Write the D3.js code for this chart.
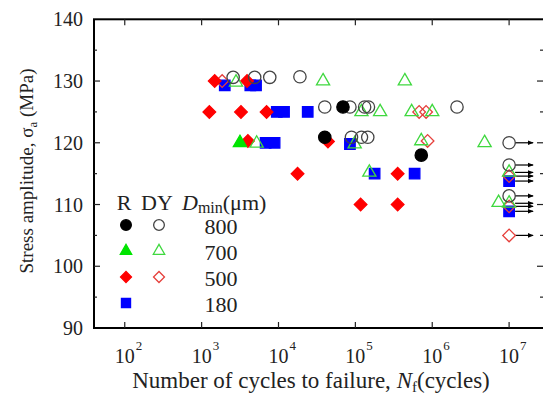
<!DOCTYPE html>
<meta charset="utf-8">
<script src="https://d3js.org/d3.v7.min.js"></script>
<style>
  body { margin: 0; background: #fff; }
  text { font-family: "Liberation Serif", "Times New Roman", serif; fill: #222; }
</style>
<body>
<svg id="chart" width="543" height="394"></svg>
<script>

// cycles to failure (N) and stress amplitude (MPa), one pair of arrays per series
var r800N = [69000, 40000, 720000];
var r800S = [125.8, 120.9, 118.0];

var dy800N = [2570, 4900, 7700, 19000, 40000, 85000, 132000, 148000, 2100000, 89000, 120000, 145000];
var dy800S = [130.6, 130.6, 130.6, 130.7, 125.8, 125.8, 125.8, 125.8, 125.8, 120.9, 120.9, 120.9];

var r700N = [3150];
var r700S = [120];

var dy700N = [2800, 38000, 440000, 120000, 210000, 540000, 1000000, 5200, 98000, 720000, 4800000, 152000, 7300000];
var dy700S = [129.8, 130, 130, 125, 125, 125, 125, 119.9, 119.8, 120.3, 120, 115.2, 110.3];

var r500N = [1480, 3900, 1260, 3250, 7000, 4000, 44000, 17700, 355000, 117000, 355000];
var r500S = [130, 130, 125, 125, 125, 120.3, 120.2, 115, 115, 110, 110];

var dy500N = [1850, 676000, 832000, 870000];
var dy500S = [130, 125, 125, 120.3];

var r180N = [2000, 4300, 5100, 9500, 11800, 24000, 6800, 8900, 85000, 178000, 590000];
var r180S = [129.3, 129.3, 129.3, 125, 125, 125, 120, 120, 119.8, 115, 115];

// run-outs (unbroken at 10^7 cycles)
var runoutN = 1e7;
var dy800Run = [120, 116.4, 111.4];
var dy700Run = [115.2, 110.2];
var dy500Run = [114.6, 109.7, 105];
var r180Run = [113.8, 108.9];

var decades = [1e2, 1e3, 1e4, 1e5, 1e6, 1e7];
var decadeExp = ["2", "3", "4", "5", "6", "7"];
var yTicks = [90, 100, 110, 120, 130, 140];

var svg = d3.select("#chart");

var x = d3.scaleLog().domain([39.8, 3.02e7]).range([94, 546]);
var y = d3.scaleLinear().domain([90, 140]).range([328, 19.3]);

var x0 = x.range()[0], x1 = x.range()[1];
var y0 = y.range()[0], y1 = y.range()[1];

// arrow head for run-outs
svg.append("defs").append("marker")
    .attr("id", "head")
    .attr("viewBox", "0 0 10 10")
    .attr("refX", 9).attr("refY", 5)
    .attr("markerWidth", 5).attr("markerHeight", 5)
    .attr("orient", "auto")
  .append("path")
    .attr("d", "M0,1L10,5L0,9Z")
    .attr("fill", "#000");

// frame
svg.append("rect")
    .attr("x", x0).attr("y", y1)
    .attr("width", x1 - x0).attr("height", y0 - y1)
    .attr("fill", "none").attr("stroke", "#000").attr("stroke-width", 2);

// y ticks every 5 MPa, inward on both sides
d3.range(95, 140, 5).forEach(function(v) {
  var len = v % 10 == 0 ? 6 : 3;
  svg.append("line").attr("x1", x0).attr("x2", x0 + len)
    .attr("y1", y(v)).attr("y2", y(v)).attr("stroke", "#222").attr("stroke-width", 1.2);
  svg.append("line").attr("x1", x1 - len - 3).attr("x2", x1)
    .attr("y1", y(v)).attr("y2", y(v)).attr("stroke", "#222").attr("stroke-width", 1.2);
});

// x ticks at decades, inward top and bottom
decades.forEach(function(t) {
  svg.append("line").attr("x1", x(t)).attr("x2", x(t))
    .attr("y1", y0).attr("y2", y0 - 6).attr("stroke", "#222").attr("stroke-width", 1.2);
  svg.append("line").attr("x1", x(t)).attr("x2", x(t))
    .attr("y1", y1).attr("y2", y1 + 6).attr("stroke", "#222").attr("stroke-width", 1.2);
});

// y tick labels
svg.selectAll(".ylab").data(yTicks).enter().append("text")
    .attr("x", 83).attr("y", function(d) { return y(d); })
    .attr("dy", "0.35em")
    .attr("text-anchor", "end")
    .style("font-size", "20px")
    .text(function(d) { return d; });

// x tick labels 10^n
decades.forEach(function(t, i) {
  svg.append("text").attr("x", x(t)).attr("y", 363)
    .attr("text-anchor", "middle").style("font-size", "20px").text("10");
  svg.append("text").attr("x", x(t) + 11).attr("y", 350)
    .style("font-size", "13px").text(decadeExp[i]);
});

// axis titles
var xt = svg.append("text").attr("x", 311).attr("y", 388)
    .attr("text-anchor", "middle").style("font-size", "23px");
xt.append("tspan").text("Number of cycles to failure, ");
xt.append("tspan").style("font-style", "italic").text("N");
xt.append("tspan").attr("dy", 4).style("font-size", "15px").text("f");
xt.append("tspan").attr("dy", -4).text("(cycles)");

var yt = svg.append("text")
    .attr("transform", "translate(33,171) rotate(-90)")
    .attr("text-anchor", "middle").style("font-size", "19px");
yt.append("tspan").text("Stress amplitude, σ");
yt.append("tspan").attr("dy", 4).style("font-size", "13px").text("a");
yt.append("tspan").attr("dy", -4).text(" (MPa)");

// marker styles
var styles = {
  r800:  { type: d3.symbolCircle, size: 120, fill: "#000", stroke: "#000", rot: 0 },
  dy800: { type: d3.symbolCircle, size: 120, fill: "none", stroke: "#444", rot: 0 },
  r700:  { type: d3.symbolTriangle, size: 75, fill: "#00e400", stroke: "#00e400", rot: 0 },
  dy700: { type: d3.symbolTriangle, size: 75, fill: "none", stroke: "#3fd83f", rot: 0 },
  r500:  { type: d3.symbolSquare, size: 80, fill: "#ff0000", stroke: "#ff0000", rot: 45 },
  dy500: { type: d3.symbolSquare, size: 80, fill: "none", stroke: "#e6403c", rot: 45 },
  r180:  { type: d3.symbolSquare, size: 110, fill: "#0000ff", stroke: "#0000ff", rot: 0 }
};

function pairs(N, S) {
  return N.map(function(n, i) { return [n, S[i]]; });
}
function runs(S) {
  return S.map(function(s) { return [runoutN, s]; });
}

function drawSeries(data, st, g) {
  g.selectAll(null).data(data).enter().append("path")
      .attr("d", d3.symbol().type(st.type).size(st.size))
      .attr("transform", function(d) {
        return "translate(" + x(d[0]) + "," + y(d[1]) + ") rotate(" + st.rot + ")";
      })
      .attr("fill", st.fill)
      .attr("stroke", st.stroke)
      .attr("stroke-width", 1.3);
}

// run-out arrows
var allRuns = dy800Run.concat(dy700Run, dy500Run, r180Run);
svg.selectAll(".arrow").data(allRuns).enter().append("line")
    .attr("x1", x(runoutN) + 6).attr("x2", x(runoutN) + 24)
    .attr("y1", function(d) { return y(d); })
    .attr("y2", function(d) { return y(d); })
    .attr("stroke", "#000").attr("stroke-width", 1.2)
    .attr("marker-end", "url(#head)");

var gPts = svg.append("g");
drawSeries(pairs(r180N, r180S).concat(runs(r180Run)), styles.r180, gPts);
drawSeries(pairs(dy500N, dy500S).concat(runs(dy500Run)), styles.dy500, gPts);
drawSeries(pairs(r500N, r500S), styles.r500, gPts);
drawSeries(pairs(dy700N, dy700S).concat(runs(dy700Run)), styles.dy700, gPts);
drawSeries(pairs(r700N, r700S), styles.r700, gPts);
drawSeries(pairs(dy800N, dy800S).concat(runs(dy800Run)), styles.dy800, gPts);
drawSeries(pairs(r800N, r800S), styles.r800, gPts);

// legend
var legRows = ["800", "700", "500", "180"];
var legR = ["r800", "r700", "r500", "r180"];
var legDY = ["dy800", "dy700", "dy500", null];

var leg = svg.append("g");
leg.append("text").attr("x", 124).attr("y", 210).attr("text-anchor", "middle")
    .style("font-size", "22px").text("R");
leg.append("text").attr("x", 157).attr("y", 210).attr("text-anchor", "middle")
    .style("font-size", "22px").text("DY");
var lt = leg.append("text").attr("x", 182).attr("y", 210).style("font-size", "22px");
lt.append("tspan").style("font-style", "italic").text("D");
lt.append("tspan").attr("dy", 3).style("font-size", "16px").text("min");
lt.append("tspan").attr("dy", -3).text("(μm)");

legRows.forEach(function(lab, i) {
  var cy = 225 + i * 26;
  [legR[i], legDY[i]].forEach(function(key, j) {
    if (!key) return;
    var st = styles[key];
    leg.append("path")
      .attr("d", d3.symbol().type(st.type).size(st.size * 0.75))
      .attr("transform", "translate(" + (126 + j * 33) + "," + cy + ") rotate(" + st.rot + ")")
      .attr("fill", st.fill).attr("stroke", st.stroke).attr("stroke-width", 1.3);
  });
  leg.append("text").attr("x", 221).attr("y", cy + 9)
      .attr("text-anchor", "middle").style("font-size", "22px").text(lab);
});

</script>
</body>
